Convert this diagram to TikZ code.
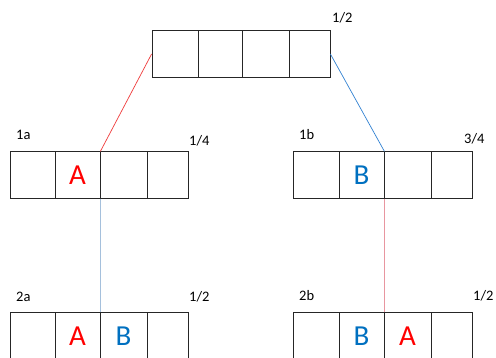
\documentclass[tikz,border=0pt]{standalone}
\usepackage{fontspec}
\setmainfont{Carlito}
\definecolor{redA}{RGB}{255,0,0}
\definecolor{blueB}{RGB}{0,112,192}
\definecolor{lineRed}{RGB}{240,60,60}
\definecolor{lineBlue}{RGB}{50,130,210}
\definecolor{paleBlue}{RGB}{165,192,220}
\definecolor{paleRed}{RGB}{232,150,160}
\begin{document}
\begin{tikzpicture}[x=1pt,y=-1pt,
  cell/.style={draw=black!85,line width=0.8pt,inner sep=0pt,minimum height=46.5pt},
  lbl/.style={font=\fontsize{14.5}{14.5}\selectfont,inner sep=0pt,anchor=west},
  letA/.style={text=redA,font=\fontsize{29}{29}\selectfont},
  letB/.style={text=blueB,font=\fontsize{29}{29}\selectfont}]
\useasboundingbox (0,0) rectangle (496,357);
\fill[white] (0,0) rectangle (496,357);
% top box
\node[cell,minimum width=46pt] (t1) at (175,54) {};
\node[cell,minimum width=44pt] (t2) at (220,54) {};
\node[cell,minimum width=47pt] (t3) at (265.5,54) {};
\node[cell,minimum width=41pt] (t4) at (309.5,54) {};
\node[lbl] (lt) at (332,18) {1/2};
% box 1a
\node[cell,minimum width=45pt] (a1) at (32.5,175) {};
\node[cell,minimum width=45pt,letA] (a2) at (77.5,175) {A};
\node[cell,minimum width=47pt] (a3) at (123.5,175) {};
\node[cell,minimum width=41pt] (a4) at (167.5,175) {};
\node[lbl] (la) at (16,135) {1a};
\node[lbl] (lafr) at (189,141) {1/4};
% box 1b
\node[cell,minimum width=46pt] (b1) at (316,175) {};
\node[cell,minimum width=45pt,letB] (b2) at (361.5,175) {B};
\node[cell,minimum width=47pt] (b3) at (407.5,175) {};
\node[cell,minimum width=41pt] (b4) at (451.5,175) {};
\node[lbl] (lb) at (299,135) {1b};
\node[lbl] (lbfr) at (464,139) {3/4};
% box 2a
\node[cell,minimum width=45pt] (c1) at (32.5,336) {};
\node[cell,minimum width=45pt,letA] (c2) at (77.5,336) {A};
\node[cell,minimum width=47pt,letB] (c3) at (123.5,336) {B};
\node[cell,minimum width=41pt] (c4) at (167.5,336) {};
\node[lbl] (lc) at (16,297) {2a};
\node[lbl] (lcfr) at (189,297) {1/2};
% box 2b
\node[cell,minimum width=46pt] (d1) at (316,336) {};
\node[cell,minimum width=45pt,letB] (d2) at (361.5,336) {B};
\node[cell,minimum width=47pt,letA] (d3) at (407.5,336) {A};
\node[cell,minimum width=41pt] (d4) at (451.5,336) {};
\node[lbl] (ld) at (299,296) {2b};
\node[lbl] (ldfr) at (473,296) {1/2};
% connectors
\draw[lineRed,line width=0.7pt] (t1.west) -- (a2.north east);
\draw[lineBlue,line width=0.7pt] (t4.east) -- (b2.north east);
\draw[paleBlue,line width=1pt] (a2.south east) -- (c2.north east);
\draw[paleRed,line width=1pt] (b2.south east) -- (d2.north east);
\end{tikzpicture}
\end{document}
